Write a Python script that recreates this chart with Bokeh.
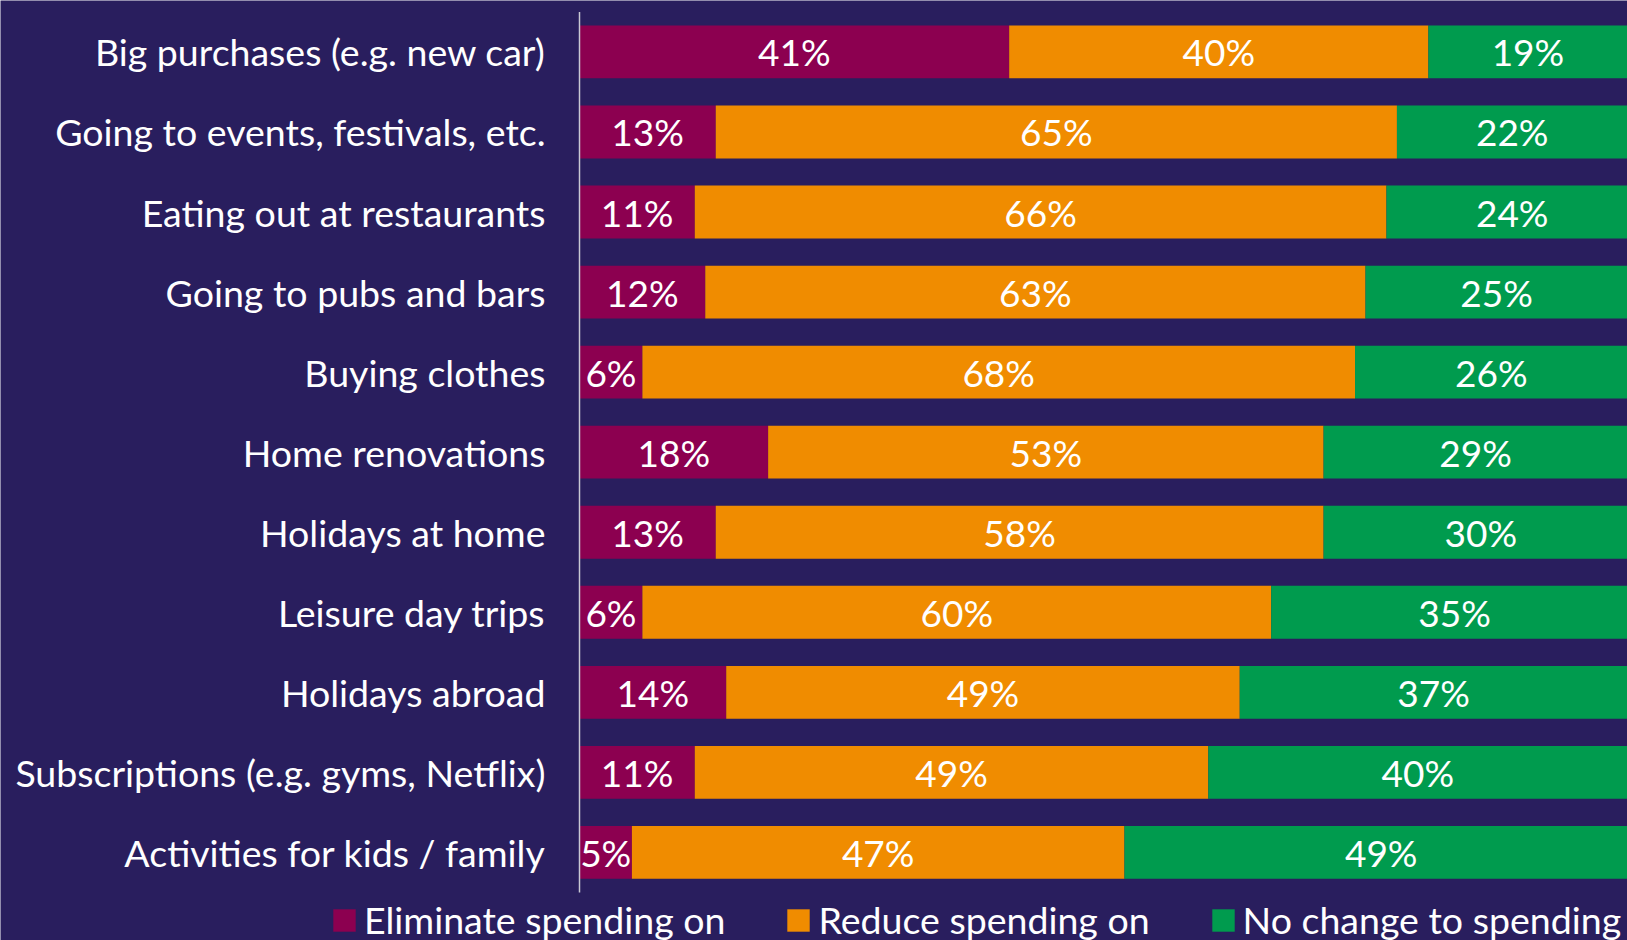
import numpy as np
from bokeh.plotting import figure
from bokeh.models import ColumnDataSource, Range1d, Legend, LegendItem
from bokeh.core.properties import value
from bokeh.embed import file_html
from bokeh.resources import INLINE

categories = [
    "Big purchases (e.g. new car)",
    "Going to events, festivals, etc.",
    "Eating out at restaurants",
    "Going to pubs and bars",
    "Buying clothes",
    "Home renovations",
    "Holidays at home",
    "Leisure day trips",
    "Holidays abroad",
    "Subscriptions (e.g. gyms, Netflix)",
    "Activities for kids / family",
]
eliminate = [41, 13, 11, 12, 6, 18, 13, 6, 14, 11, 5]
reduce = [40, 65, 66, 63, 68, 53, 58, 60, 49, 49, 47]
no_change = [19, 22, 24, 25, 26, 29, 30, 35, 37, 40, 49]
series_names = ["Eliminate spending on", "Reduce spending on", "No change to spending"]
colors = ["#8C0050", "#F08C00", "#009B4E"]

BG = "#291E5E"
FONT = "Lato"

# layout (pixels)
W, H = 1627, 940
LEFT_PX = 579        # where 0% sits
BAND = 80.05         # px per category row
TOP_PAD = 11.4       # px above first row band
LABEL_GAP = 34       # px between category label and axis line

n = len(categories)
ypos = [n - 1 - i for i in range(n)]
x_start = -100.0 * LEFT_PX / (W - LEFT_PX)
px_per_unit = (W - LEFT_PX) / 100.0
y_top = n - 0.5 + TOP_PAD / BAND
y_bottom = y_top - H / BAND

p = figure(
    width=W, height=H,
    x_range=Range1d(x_start, 100), y_range=Range1d(y_bottom, y_top),
    x_axis_location=None, y_axis_location=None,
    output_backend="svg", toolbar_location=None,
    min_border=0,
    background_fill_color=BG, border_fill_color=BG,
    outline_line_color=None,
)
p.grid.visible = False

series = [eliminate, reduce, no_change]
left = np.zeros(n)
renderers = []
for name, vals, col in zip(series_names, series, colors):
    vals = np.array(vals, dtype=float)
    right = left + vals
    src = ColumnDataSource(dict(
        y=ypos, left=left.copy(), right=right.copy(),
        mid=(left + right) / 2, lbl=[f"{int(v)}%" for v in vals],
    ))
    r = p.hbar(y="y", left="left", right="right", height=0.66, source=src,
               fill_color=col, line_color=None)
    p.text(x="mid", y="y", text="lbl", source=src, text_align="center",
           text_baseline="middle", text_color="white",
           text_font=value(FONT), text_font_size="37px")
    renderers.append(r)
    left = right

# category labels (acting as the y axis)
cat_src = ColumnDataSource(dict(y=ypos, name=categories,
                                x=[-LABEL_GAP / px_per_unit] * n))
p.text(x="x", y="y", text="name", source=cat_src, text_align="right",
       text_baseline="middle", text_color="white",
       text_font=value(FONT), text_font_size="37.5px")

# axis line
p.segment(x0=[0], y0=[-0.5], x1=[0], y1=[n - 0.5],
          line_color="#C8C8D4", line_width=1.5)

legend = Legend(
    items=[LegendItem(label=nm, renderers=[r]) for nm, r in zip(series_names, renderers)],
    orientation="horizontal", location=(330, -2),
    padding=0, margin=0, spacing=59, label_standoff=6,
    glyph_width=28, glyph_height=28,
    label_text_font=FONT, label_text_font_size="37.5px", label_text_color="white",
    background_fill_alpha=0, border_line_color=None,
)
p.add_layout(legend)

open("out.html", "w").write(file_html(p, INLINE))
